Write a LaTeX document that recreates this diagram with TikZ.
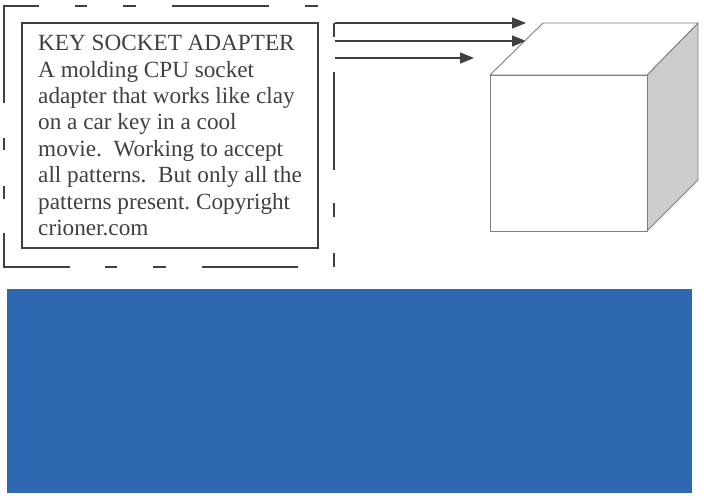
\documentclass[tikz,border=0pt]{standalone}
\usepackage{fontspec}
\setmainfont{Liberation Serif}
\usetikzlibrary{arrows.meta}
\definecolor{ink}{HTML}{404040}
\definecolor{edge}{HTML}{7F7F7F}
\definecolor{side}{HTML}{CCCCCC}
\definecolor{slab}{HTML}{2E68B1}
\frenchspacing
\begin{document}
\begin{tikzpicture}[x=1pt, y=-1pt, frame/.style={draw=ink, line width=1.8pt}, infobox/.style={draw=ink, line width=1.8pt, text=ink, minimum width=296pt, minimum height=225pt, align=left, font=\fontsize{23.2}{26.4}\selectfont}, feed/.style={draw=ink, line width=1.3pt, -{Triangle[length=14pt,width=11pt]}}, cubeedge/.style={draw=edge, line width=0.9pt, line join=round}]
\useasboundingbox (0,0) rectangle (704,500);
\node (adapter) at (170,135.5) [infobox] {KEY SOCKET ADAPTER\\A molding CPU socket\\adapter that works like clay\\on a car key in a cool\\movie.\ \ Working to accept\\all patterns.\ \ But only all the\\patterns present. Copyright\\crioner.com};

\draw[frame] (4,103) -- (4,6) -- (39,6) (75,6) -- (87,6) (123,6) -- (136,6) (172,6) -- (269,6) (305,6) -- (318,6);
\draw[frame] (4,138) -- (4,150) (4,186) -- (4,199) (4,233) -- (4,267) -- (70,267) (105,267) -- (117,267) (153,267) -- (166,267) (202,267) -- (298,267);
\draw[frame] (334,23) -- (334,37) (334,72) -- (334,170) (334,203) -- (334,217) (334,253) -- (334,267);

\coordinate (in1) at (335,23);
\coordinate (in2) at (335,41);
\coordinate (in3) at (335,58);
\coordinate (out1) at (526,23);
\coordinate (out2) at (526,41);
\coordinate (out3) at (474,58);
\draw[feed] (in1) -- (out1);
\draw[feed] (in2) -- (out2);
\draw[feed] (in3) -- (out3);

\coordinate (ftl) at (490,75);
\coordinate (ftr) at (647,75);
\coordinate (fbr) at (647,231);
\coordinate (fbl) at (490,231);
\coordinate (btl) at (543,23);
\coordinate (btr) at (698,23);
\coordinate (bbr) at (698,180);
\draw[cubeedge, fill=side] (ftr) -- (btr) -- (bbr) -- (fbr) -- cycle;
\draw[cubeedge, fill=white] (ftl) -- (btl) -- (btr) -- (ftr) -- cycle;
\draw[cubeedge, fill=white] (ftl) rectangle (fbr);

\fill[slab] (7,289) rectangle (692,493);
\end{tikzpicture}
\end{document}
